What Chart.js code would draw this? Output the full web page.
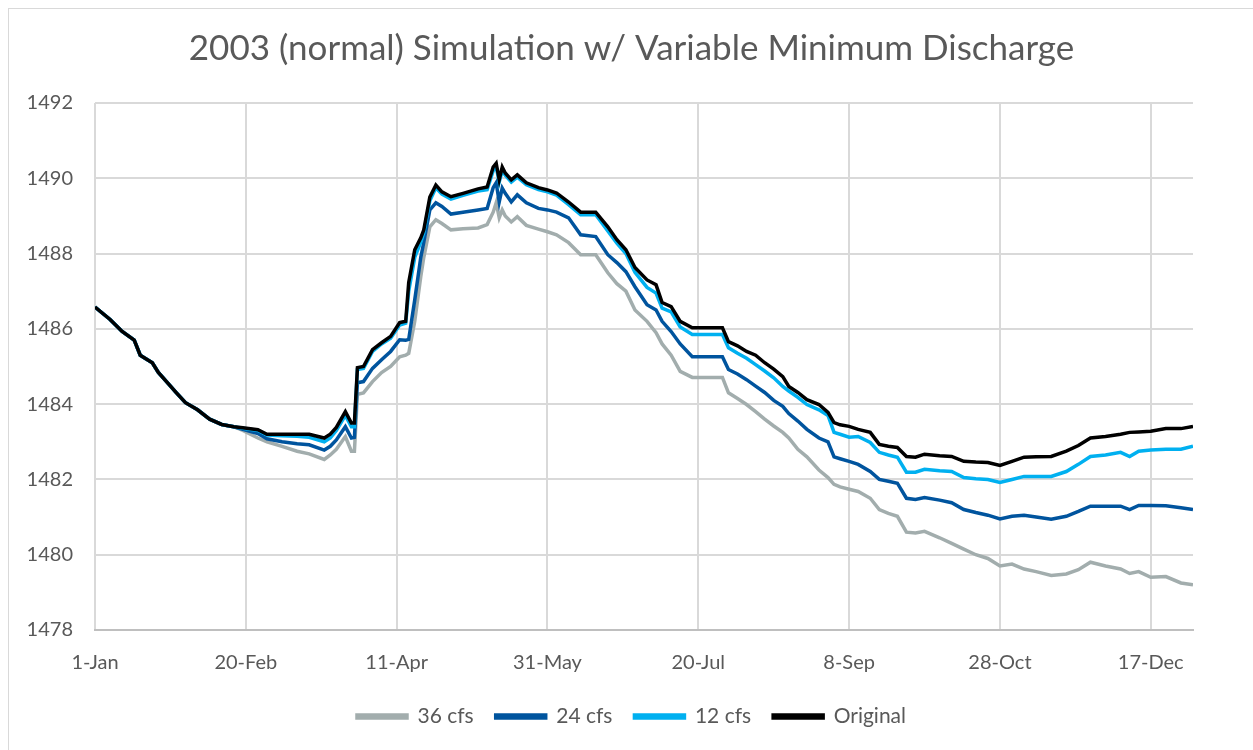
<!DOCTYPE html>
<html>
<head>
<meta charset="utf-8">
<script src="https://cdn.jsdelivr.net/npm/chart.js@4.4.1/dist/chart.umd.min.js"></script>
<style>
  body { margin: 0; background: #fff; }
  #wrap { position: relative; width: 1253px; height: 750px; }
  #frame { position: absolute; left: 8px; top: 8px; right: 0; bottom: 0; border: 1px solid #d9d9d9; border-right: none; border-bottom: none; }
</style>
</head>
<body>
<div id="wrap">
  <div id="frame"></div>
  <canvas id="lake" width="1253" height="750"></canvas>
</div>
<script>
// day of year (0 = 1-Jan)
const days = [0, 5, 9, 13, 15, 19, 21, 24, 27, 30, 34, 38, 42, 46,
  49, 54, 57, 62, 67, 71, 76, 78, 80, 83, 85, 86, 87, 89, 92, 95,
  98, 101, 103, 104, 106, 108, 109, 111, 113, 115, 118, 122, 127, 130,
  132, 133, 134, 135, 136, 138, 140, 143, 147, 150, 153, 157, 161, 166,
  170, 173, 176, 179, 183, 186, 188, 191, 194, 198, 203, 208, 210, 213,
  216, 219, 222, 225, 228, 230, 233, 236, 240, 243, 245, 247, 250, 253,
  257, 260, 263, 266, 269, 272, 275, 280, 284, 288, 292, 296, 300, 304,
  308, 312, 317, 322, 326, 330, 335, 340, 343, 346, 350, 355, 360, 364];

const cfs36 = [1486.58, 1486.25, 1485.93, 1485.7, 1485.3, 1485.1, 1484.84, 1484.57, 1484.3, 1484.04, 1483.85, 1483.6, 1483.46, 1483.4,
  1483.3, 1483.1, 1483.0, 1482.88, 1482.75, 1482.68, 1482.53, 1482.65, 1482.8, 1483.14, 1482.75, 1482.75, 1484.26, 1484.3, 1484.6, 1484.84,
  1485.0, 1485.26, 1485.3, 1485.35, 1486.2, 1487.39, 1487.9, 1488.71, 1488.9, 1488.8, 1488.63, 1488.66, 1488.68, 1488.77,
  1489.1, 1489.35, 1488.95, 1489.16, 1489.0, 1488.84, 1488.98, 1488.75, 1488.65, 1488.58, 1488.5, 1488.29, 1487.97, 1487.97,
  1487.49, 1487.2, 1487.0, 1486.5, 1486.2, 1485.9, 1485.6, 1485.3, 1484.87, 1484.71, 1484.71, 1484.71, 1484.3, 1484.15,
  1483.99, 1483.8, 1483.6, 1483.42, 1483.25, 1483.1, 1482.8, 1482.6, 1482.25, 1482.05, 1481.87, 1481.8, 1481.74, 1481.68,
  1481.5, 1481.2, 1481.1, 1481.02, 1480.6, 1480.58, 1480.62, 1480.45, 1480.3, 1480.15, 1480.0, 1479.9, 1479.7, 1479.75,
  1479.62, 1479.55, 1479.45, 1479.49, 1479.6, 1479.8, 1479.7, 1479.62, 1479.5, 1479.55, 1479.4, 1479.42, 1479.25, 1479.2];

const cfs24 = [1486.58, 1486.25, 1485.93, 1485.7, 1485.3, 1485.1, 1484.84, 1484.57, 1484.3, 1484.04, 1483.85, 1483.6, 1483.46, 1483.4,
  1483.33, 1483.22, 1483.08, 1483.0, 1482.95, 1482.92, 1482.78, 1482.88, 1483.05, 1483.4, 1483.1, 1483.12, 1484.57, 1484.6, 1484.95, 1485.18,
  1485.4, 1485.71, 1485.7, 1485.72, 1486.77, 1487.9, 1488.3, 1489.16, 1489.35, 1489.25, 1489.05, 1489.1, 1489.16, 1489.2,
  1489.75, 1489.88, 1489.37, 1489.74, 1489.6, 1489.37, 1489.56, 1489.35, 1489.2, 1489.16, 1489.1, 1488.95, 1488.5, 1488.45,
  1487.97, 1487.76, 1487.52, 1487.12, 1486.64, 1486.5, 1486.2, 1485.93, 1485.6, 1485.26, 1485.26, 1485.26, 1484.92, 1484.8,
  1484.65, 1484.48, 1484.31, 1484.1, 1483.94, 1483.75, 1483.55, 1483.33, 1483.1, 1483.0, 1482.6, 1482.55, 1482.48, 1482.4,
  1482.21, 1482.0, 1481.95, 1481.9, 1481.5, 1481.47, 1481.52, 1481.45, 1481.38, 1481.2, 1481.12, 1481.05, 1480.95, 1481.02,
  1481.05, 1481.0, 1480.94, 1481.02, 1481.15, 1481.29, 1481.29, 1481.29, 1481.2, 1481.31, 1481.31, 1481.3, 1481.25, 1481.2];

const cfs12 = [1486.58, 1486.25, 1485.93, 1485.7, 1485.3, 1485.1, 1484.84, 1484.57, 1484.3, 1484.04, 1483.85, 1483.6, 1483.46, 1483.4,
  1483.36, 1483.3, 1483.18, 1483.16, 1483.15, 1483.12, 1483.0, 1483.1, 1483.3, 1483.7, 1483.4, 1483.4, 1484.92, 1484.95, 1485.4, 1485.6,
  1485.75, 1486.1, 1486.15, 1487.0, 1487.9, 1488.3, 1488.55, 1489.4, 1489.75, 1489.58, 1489.45, 1489.55, 1489.66, 1489.7,
  1490.2, 1490.3, 1489.9, 1490.2, 1490.08, 1489.9, 1490.03, 1489.83, 1489.7, 1489.64, 1489.55, 1489.3, 1489.03, 1489.03,
  1488.6, 1488.28, 1488.0, 1487.5, 1487.1, 1486.95, 1486.55, 1486.45, 1486.05, 1485.85, 1485.85, 1485.85, 1485.5, 1485.35,
  1485.22, 1485.05, 1484.88, 1484.7, 1484.47, 1484.35, 1484.18, 1483.99, 1483.85, 1483.7, 1483.25, 1483.2, 1483.12, 1483.14,
  1482.98, 1482.72, 1482.65, 1482.59, 1482.19, 1482.19, 1482.27, 1482.23, 1482.21, 1482.05, 1482.02, 1482.0, 1481.92, 1482.0,
  1482.08, 1482.08, 1482.08, 1482.21, 1482.4, 1482.61, 1482.65, 1482.72, 1482.61, 1482.75, 1482.78, 1482.8, 1482.8, 1482.88];

const original = [1486.58, 1486.25, 1485.93, 1485.7, 1485.3, 1485.1, 1484.84, 1484.57, 1484.3, 1484.04, 1483.85, 1483.6, 1483.46, 1483.4,
  1483.37, 1483.32, 1483.2, 1483.2, 1483.2, 1483.2, 1483.1, 1483.2, 1483.38, 1483.8, 1483.5, 1483.5, 1484.97, 1485.0, 1485.45, 1485.63,
  1485.8, 1486.17, 1486.2, 1487.23, 1488.1, 1488.42, 1488.63, 1489.5, 1489.82, 1489.64, 1489.51, 1489.6, 1489.72, 1489.77,
  1490.3, 1490.4, 1489.96, 1490.3, 1490.14, 1489.96, 1490.09, 1489.88, 1489.75, 1489.69, 1489.61, 1489.37, 1489.1, 1489.1,
  1488.71, 1488.37, 1488.1, 1487.63, 1487.3, 1487.17, 1486.7, 1486.59, 1486.2, 1486.03, 1486.03, 1486.03, 1485.66, 1485.55,
  1485.4, 1485.3, 1485.1, 1484.93, 1484.73, 1484.47, 1484.31, 1484.12, 1483.99, 1483.78, 1483.51, 1483.45, 1483.41, 1483.33,
  1483.25, 1482.93, 1482.88, 1482.85, 1482.61, 1482.59, 1482.67, 1482.63, 1482.61, 1482.48, 1482.46, 1482.45, 1482.37, 1482.48,
  1482.59, 1482.6, 1482.61, 1482.75, 1482.9, 1483.1, 1483.14, 1483.2, 1483.25, 1483.26, 1483.28, 1483.35, 1483.35, 1483.41];

const tickDays = [0, 50, 100, 150, 200, 250, 300, 350];
const tickLabels = ['1-Jan', '20-Feb', '11-Apr', '31-May', '20-Jul', '8-Sep', '28-Oct', '17-Dec'];

const FONT = 'Lato, "Open Sans", sans-serif';

function toPoints(vals) {
    return vals.map((v, i) => ({ x: days[i], y: v }));
}

function line(label, vals, color, order) {
    return {
        label: label,
        data: toPoints(vals),
        borderColor: color,
        backgroundColor: color,
        borderWidth: 3.5,
        pointRadius: 0,
        tension: 0,
        order: order
    };
}

// title and legend are centred on the whole picture, not on the padded box
const recentre = {
    id: 'recentre',
    afterLayout(chart) {
        [chart.titleBlock, chart.legend].forEach(b => {
            if (!b) return;
            b.left += 30;
            b.right += 30;
        });
    }
};

new Chart(document.getElementById('lake'), {
    type: 'line',
    data: {
        datasets: [
            line('36 cfs', cfs36, '#a2adad', 3),
            line('24 cfs', cfs24, '#00549e', 2),
            line('12 cfs', cfs12, '#00b0f0', 1),
            line('Original', original, '#000000', 0)
        ]
    },
    plugins: [recentre],
    options: {
        responsive: false,
        animation: false,
        layout: { padding: { left: 10, right: 60, top: 0, bottom: 13 } },
        plugins: {
            title: {
                display: true,
                text: '2003 (normal) Simulation w/ Variable Minimum Discharge',
                color: '#595959',
                font: { family: FONT, size: 35, weight: 'normal' },
                padding: { top: 28, bottom: 33 }
            },
            legend: {
                position: 'bottom',
                labels: {
                    color: '#595959',
                    font: { family: FONT, size: 21 },
                    boxWidth: 50,
                    boxHeight: 3,
                    padding: 22,
                    sort: (a, b) => a.datasetIndex - b.datasetIndex
                }
            },
            tooltip: { enabled: false }
        },
        scales: {
            x: {
                type: 'linear',
                min: 0,
                max: 364,
                afterFit: s => { s.height = 54; },
                afterBuildTicks: s => { s.ticks = tickDays.map(d => ({ value: d })); },
                ticks: {
                    color: '#595959',
                    font: { family: FONT, size: 20 },
                    padding: 21,
                    maxRotation: 0,
                    callback: v => tickLabels[tickDays.indexOf(v)]
                },
                grid: { color: '#d9d9d9', lineWidth: 2, drawTicks: false },
                border: { display: true, color: '#bfbfbf', width: 2 }
            },
            y: {
                min: 1478,
                max: 1492,
                afterFit: s => { s.width = 85; },
                ticks: {
                    stepSize: 2,
                    color: '#595959',
                    font: { family: FONT, size: 20 },
                    padding: 22,
                    callback: v => String(v)
                },
                grid: { color: '#d9d9d9', lineWidth: 2, drawTicks: false },
                border: { display: false }
            }
        }
    }
});
</script>
</body>
</html>
